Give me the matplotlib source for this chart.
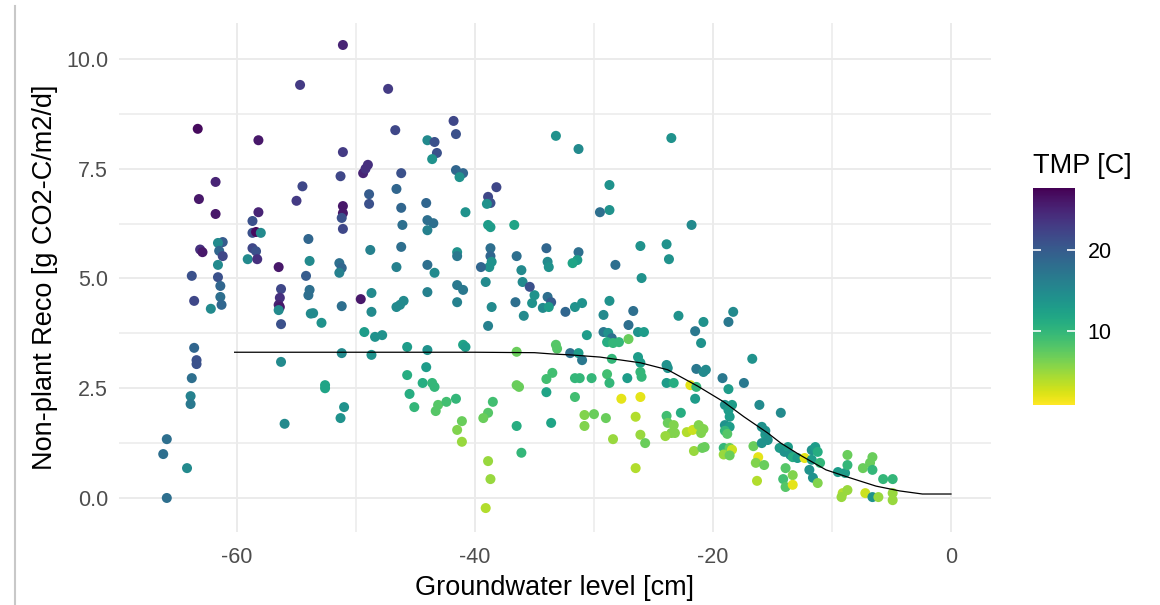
import matplotlib
matplotlib.use("Agg")
import matplotlib.pyplot as plt
import numpy as np
from matplotlib.colors import Normalize
from matplotlib.lines import Line2D

plt.rcParams['font.family'] = ['Liberation Sans', 'DejaVu Sans']

# ---- data: (groundwater level [cm], non-plant Reco, temperature [C]) ----
gw = [
    -51.1, -54.7, -63.3, -58.2, -51.1, -51.3, -61.8, -54.5, -63.2, -55.0,
    -51.1, -61.8, -58.2, -51.1, -51.2, -51.1, -58.7, -58.7, -58.4, -58.0,
    -54.0, -61.2, -61.6, -63.1, -62.9, -61.5, -61.2, -58.7, -58.4, -59.1,
    -58.3, -61.6, -56.5, -53.9, -51.4, -51.2, -51.4, -63.8, -61.6, -54.2,
    -61.4, -61.4, -63.6, -61.3, -62.2, -56.3, -56.4, -56.5, -56.4, -56.5,
    -56.3, -53.9, -54.0, -53.6, -53.8, -52.9, -51.2, -63.6, -63.4, -63.4,
    -63.8, -63.9, -63.9, -65.9, -66.2, -64.2, -65.9, -56.3, -56.0, -51.2,
    -52.6, -52.6, -51.0, -51.3,
    -47.3, -46.7, -49.0, -49.4, -49.2, -46.2, -48.9, -48.9, -46.6, -46.2,
    -44.1, -44.0, -43.4, -43.2, -43.6, -41.8, -41.6, -41.6, -41.0, -41.3,
    -40.8, -46.1, -44.0, -43.5, -44.0, -48.8, -46.2, -46.6, -44.0, -43.4,
    -41.5, -41.5, -38.2, -38.9, -38.7, -39.0, -38.9, -38.7, -36.7, -33.2,
    -38.7, -38.7, -38.6, -38.8, -39.5, -36.5, -36.1, -34.0, -33.9, -33.8,
    -36.0, -49.6, -48.7, -48.7, -46.6, -46.3, -46.0, -44.0, -41.5, -41.0,
    -41.5, -39.1, -38.6, -38.9, -36.6, -35.0, -35.2, -35.9, -35.4, -34.3,
    -33.9, -33.6, -33.8, -49.3, -48.4, -47.8, -48.7, -45.7, -44.0, -41.0,
    -40.8, -36.5, -33.2, -45.7, -44.1, -44.4, -43.6, -43.4, -45.5, -45.1,
    -43.1, -43.3, -42.4, -41.6, -41.1, -41.5, -41.1, -38.5, -38.9, -39.3,
    -36.5, -36.3, -34.0, -33.5, -34.0, -36.5, -33.6, -36.1, -38.9, -38.7,
    -39.1,
    -31.3, -23.5, -28.7, -28.7, -29.5, -21.8, -31.3, -31.4, -31.8, -26.1,
    -23.9, -23.7, -28.2, -26.0,
    -32.4, -31.6, -31.0, -28.7, -29.2, -26.7, -27.1, -22.9, -20.8, -18.3,
    -18.7, -30.6, -29.2, -28.8, -28.5, -28.9, -28.4, -27.9, -27.1, -26.3,
    -25.8, -21.5, -21.0, -16.7, -33.1, -32.0, -31.3, -31.0, -28.5, -26.3,
    -26.1, -23.9, -23.8, -31.6, -31.2, -30.2, -28.9, -28.7, -27.2, -26.1,
    -26.0, -23.9, -23.3, -21.4, -20.8, -20.6, -21.9, -21.4, -19.2, -17.4,
    -18.7, -21.5, -31.6, -27.7, -26.1, -16.1, -19.0, -18.7, -18.4, -18.6,
    -30.8, -30.0, -29.0, -26.5, -23.9, -22.7, -30.8, -23.8, -23.3, -23.5,
    -24.0, -23.2, -28.4, -26.1, -25.7, -22.2, -21.7, -21.2, -21.0, -20.8,
    -21.6, -20.9, -20.7, -19.0, -18.6, -19.0, -18.8, -19.1, -18.6, -18.4,
    -19.1, -18.6, -16.6, -16.2, -16.4, -15.7, -16.3, -26.5, -15.9, -15.6,
    -15.9,
    -14.3, -15.6, -15.4, -14.4, -14.0, -13.7, -13.5, -13.3, -12.9, -13.9,
    -14.1, -13.9, -13.3, -13.3, -12.3, -11.7, -11.4, -11.2, -11.7, -11.9,
    -11.6, -11.0, -11.2, -9.5, -8.9, -8.7, -8.7, -9.1, -8.7, -9.2,
    -7.4, -6.8, -6.6, -6.6, -7.2, -6.6, -6.1, -5.7, -4.9, -4.9,
    -4.9,
]
reco = [
    10.32, 9.41, 8.41, 8.15, 7.88, 7.33, 7.20, 7.10, 6.81, 6.77,
    6.65, 6.47, 6.51, 6.49, 6.38, 6.13, 6.31, 6.04, 6.06, 6.04,
    5.90, 5.83, 5.81, 5.66, 5.60, 5.63, 5.51, 5.69, 5.62, 5.44,
    5.44, 5.31, 5.26, 5.40, 5.35, 5.24, 5.13, 5.06, 5.03, 5.06,
    4.83, 4.58, 4.49, 4.40, 4.31, 4.76, 4.56, 4.40, 4.35, 4.28,
    3.96, 4.74, 4.62, 4.21, 4.20, 3.99, 4.37, 3.42, 3.14, 3.05,
    2.73, 2.32, 2.14, 1.34, 1.00, 0.68, 0.00, 3.10, 1.69, 3.30,
    2.57, 2.50, 2.07, 1.82,
    9.32, 8.38, 7.59, 7.40, 7.50, 7.40, 6.92, 6.70, 7.04, 6.61,
    6.72, 8.15, 8.11, 7.86, 7.72, 8.59, 8.29, 7.47, 7.40, 7.31,
    6.51, 6.22, 6.33, 6.26, 6.10, 5.65, 5.72, 5.26, 5.31, 5.13,
    5.60, 5.51, 7.08, 6.86, 6.72, 6.70, 6.22, 6.17, 6.22, 8.25,
    5.69, 5.51, 5.38, 5.26, 5.26, 5.51, 5.19, 5.69, 5.38, 5.26,
    4.92, 4.53, 4.67, 4.24, 4.35, 4.40, 4.49, 4.69, 4.85, 4.74,
    4.46, 4.92, 4.35, 3.92, 4.46, 4.62, 4.44, 4.15, 4.81, 4.33,
    4.58, 4.46, 4.35, 3.78, 3.67, 3.71, 3.26, 3.44, 3.37, 3.49,
    3.44, 3.33, 3.49, 2.80, 2.98, 2.62, 2.62, 2.53, 2.37, 2.07,
    2.12, 1.98, 2.19, 2.26, 1.75, 1.55, 1.28, 2.19, 1.94, 1.82,
    2.57, 2.53, 2.71, 2.85, 2.41, 1.64, 1.71, 1.03, 0.84, 0.43,
    -0.23,
    7.95, 8.20, 7.13, 6.56, 6.51, 6.22, 5.60, 5.42, 5.35, 5.74,
    5.78, 5.44, 5.31, 5.01,
    4.24, 4.35, 4.44, 4.49, 4.17, 4.26, 3.94, 4.15, 4.01, 4.24,
    4.01, 3.71, 3.78, 3.76, 3.64, 3.55, 3.53, 3.55, 3.62, 3.78,
    3.78, 3.80, 3.53, 3.17, 3.40, 3.30, 3.30, 3.14, 3.17, 3.21,
    3.08, 3.03, 2.96, 2.73, 2.73, 2.73, 2.82, 2.62, 2.73, 2.87,
    2.76, 2.62, 2.62, 2.94, 2.87, 2.92, 2.57, 2.53, 2.73, 2.62,
    2.48, 2.26, 2.30, 2.26, 2.30, 2.12, 2.12, 2.00, 2.12, 1.85,
    1.89, 1.91, 1.82, 1.85, 1.87, 1.94, 1.64, 1.71, 1.66, 1.48,
    1.41, 1.48, 1.34, 1.44, 1.25, 1.50, 1.55, 1.66, 1.48, 1.57,
    1.07, 1.14, 1.16, 1.66, 1.62, 1.53, 1.46, 1.14, 1.14, 1.10,
    0.99, 0.97, 1.18, 0.93, 0.80, 0.75, 0.39, 0.68, 1.62, 1.44,
    1.25,
    1.94, 1.53, 1.32, 1.14, 1.05, 1.16, 0.98, 0.93, 0.91, 0.68,
    0.43, 0.25, 0.52, 0.30, 0.91, 1.09, 1.16, 1.05, 0.87, 0.64,
    0.46, 0.80, 0.34, 0.59, 0.57, 0.98, 0.75, 0.11, 0.18, 0.02,
    0.68, 0.80, 0.64, 0.93, 0.11, 0.02, 0.02, 0.43, 0.43, 0.11,
    -0.05,
]
tmp = [
    25, 23, 27, 26, 23, 22, 25, 22, 26, 23,
    26, 26, 25, 26, 21, 22, 21, 21, 27, 15,
    19, 20, 15, 24, 26, 19, 22, 22, 21, 15,
    24, 15, 26, 15, 18, 19, 16, 21, 21, 20,
    19, 18, 22, 19, 15, 22, 24, 25, 26, 15,
    21, 18, 18, 15, 15, 14, 18, 19, 21, 21,
    18, 16, 17, 18, 18, 15, 18, 15, 15, 15,
    12, 12, 14, 14,
    23, 22, 24, 25, 24, 21, 20, 21, 19, 19,
    19, 15, 21, 21, 14, 22, 21, 19, 19, 14,
    14, 18, 18, 18, 16, 16, 18, 16, 18, 15,
    14, 17, 22, 22, 21, 14, 13, 13, 12, 14,
    18, 19, 14, 14, 19, 18, 15, 19, 15, 14,
    15, 26, 15, 15, 15, 15, 15, 16, 17, 17,
    16, 15, 15, 16, 18, 14, 14, 15, 21, 15,
    18, 20, 13, 13, 14, 14, 14, 13, 14, 12,
    13, 7, 8, 11, 13, 11, 10, 10, 11, 10,
    8, 8, 9, 10, 7, 6, 5, 9, 8, 7,
    7, 7, 9, 9, 12, 11, 12, 10, 5, 5,
    4,
    15, 14, 14, 14, 18, 15, 18, 13, 12, 14,
    14, 14, 18, 14,
    19, 14, 14, 14, 15, 18, 18, 14, 14, 15,
    17, 13, 17, 14, 18, 11, 10, 10, 7, 14,
    13, 17, 14, 14, 8, 18, 13, 17, 10, 13,
    13, 14, 14, 10, 10, 10, 9, 10, 13, 10,
    10, 13, 11, 17, 15, 15, 2, 10, 17, 17,
    13, 13, 9, 2, 2, 15, 14, 13, 13, 13,
    6, 7, 7, 4, 9, 11, 6, 7, 6, 6,
    5, 6, 5, 5, 7, 4, 3, 6, 6, 6,
    5, 7, 7, 14, 13, 10, 8, 10, 7, 3,
    5, 7, 7, 2, 6, 7, 4, 4, 14, 13,
    14,
    15, 14, 14, 13, 14, 13, 14, 11, 13, 8,
    9, 8, 6, 2, 2, 14, 13, 11, 13, 14,
    14, 10, 6, 13, 13, 7, 10, 4, 5, 5,
    7, 7, 10, 7, 3, 14, 5, 10, 10, 5,
    5,
]

# fitted curve
fit_gw = [-60.2, -50, -40, -35, -33.5, -32.0, -29.5, -26.1, -23.8, -21.3,
          -19.1, -17.4, -15.4, -14.3, -12.7, -10.5, -8.5, -6.3, -4.3, -2.4, 0]
fit_reco = [3.32, 3.32, 3.32, 3.31, 3.28, 3.26, 3.21, 3.08, 2.92, 2.55,
            2.19, 1.85, 1.48, 1.25, 0.98, 0.64, 0.46, 0.27, 0.16, 0.09, 0.09]

x_ticks = [-60, -40, -20, 0]
x_ticklabels = ["-60", "-40", "-20", "0"]
y_ticks = [0, 2.5, 5, 7.5, 10]
y_ticklabels = ["0.0", "2.5", "5.0", "7.5", "10.0"]
cb_ticks = [10, 20]
tmp_range = (0.9, 27.7)

W, H = 1160, 605
fig = plt.figure(figsize=(W / 100, H / 100), dpi=100)

ax_l, ax_r, ax_t, ax_b = 119.2, 990.6, 22.6, 532.2
ax = fig.add_axes([ax_l / W, 1 - ax_b / H, (ax_r - ax_l) / W, (ax_b - ax_t) / H])
ax.set_xlim(-69.9, 3.33)
ax.set_ylim(-0.78, 10.83)

grid_c = '#EBEBEB'
for s in ax.spines.values():
    s.set_visible(False)
ax.set_xticks(x_ticks)
ax.set_xticklabels(x_ticklabels)
ax.set_yticks(y_ticks)
ax.set_yticklabels(y_ticklabels)
ax.set_xticks([-50, -30, -10], minor=True)
ax.set_yticks([1.25, 3.75, 6.25, 8.75], minor=True)
ax.grid(True, which='major', color=grid_c, linewidth=1.4)
ax.grid(True, which='minor', color=grid_c, linewidth=1.1)
ax.set_axisbelow(True)
ax.tick_params(which='both', length=0)
ax.tick_params(axis='x', pad=11, labelsize=15.5, labelcolor='#4D4D4D')
ax.tick_params(axis='y', pad=8, labelsize=15.5, labelcolor='#4D4D4D')

norm = Normalize(vmin=tmp_range[0], vmax=tmp_range[1])
sc = ax.scatter(gw, reco, c=tmp, cmap='viridis_r', norm=norm, s=52,
                linewidths=0, zorder=2)
ax.plot(fit_gw, fit_reco, color='black', linewidth=0.9, zorder=3)

ax.set_xlabel("Groundwater level [cm]", fontsize=19.5, labelpad=5)
ax.set_ylabel("Non-plant Reco [g CO2-C/m2/d]", fontsize=19.5, labelpad=6)

# colorbar
cb_l, cb_r, cb_t, cb_b = 1033, 1075, 188, 405
cax = fig.add_axes([cb_l / W, 1 - cb_b / H, (cb_r - cb_l) / W, (cb_b - cb_t) / H])
cb = fig.colorbar(sc, cax=cax)
cb.outline.set_visible(False)
cb.set_ticks(cb_ticks)
cax.tick_params(axis='y', direction='in', color='white', length=6, width=1.2,
                left=True, right=True, labelleft=False, labelright=True,
                labelsize=15.5, pad=9)
fig.text(cb_l / W, 1 - 166 / H, "TMP [C]", fontsize=19.5, ha='left', va='center')

# left border line of the screenshot
fig.add_artist(Line2D([15 / W, 15 / W], [0, 0.99], color='#C8C8C8', linewidth=1.5))

fig.savefig("out.png", dpi=100)
